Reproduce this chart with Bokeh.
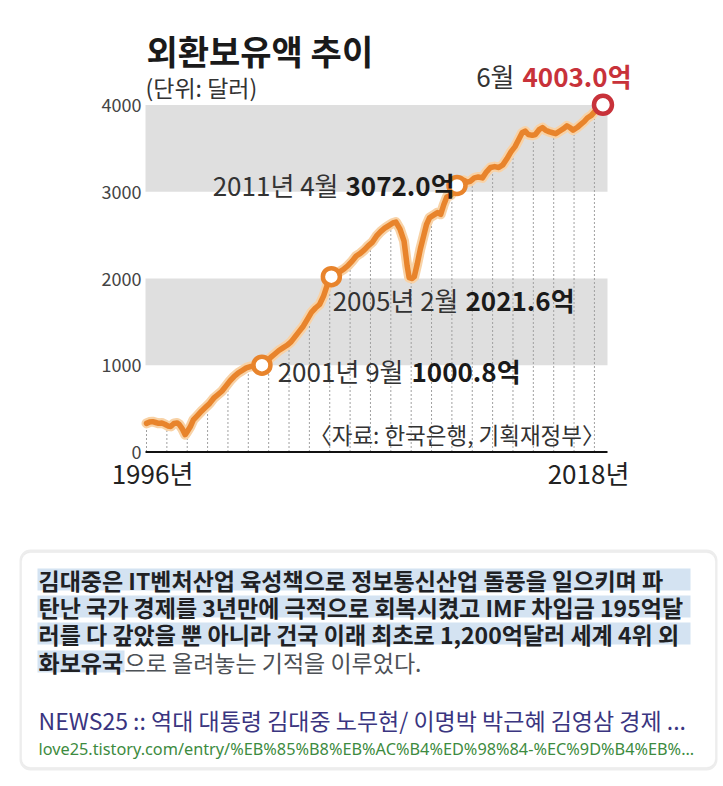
from bokeh.plotting import figure
from bokeh.models import Range1d, BoxAnnotation
from bokeh.layouts import column
from bokeh.embed import file_html
from bokeh.resources import INLINE
from bokeh.core.properties import value

# ---------------- data ----------------
dates = [1996.00, 1996.15, 1996.30, 1996.45, 1996.60, 1996.75, 1996.90,
         1997.05, 1997.20, 1997.35, 1997.50, 1997.60, 1997.75, 1997.90,
         1998.00, 1998.15, 1998.30, 1998.50, 1998.70, 1998.90,
         1999.10, 1999.30, 1999.50, 1999.70, 1999.90,
         2000.10, 2000.30, 2000.50, 2000.70, 2000.90,
         2001.10, 2001.30, 2001.50, 2001.67, 2001.90,
         2002.10, 2002.30, 2002.50, 2002.70, 2002.90,
         2003.10, 2003.30, 2003.50, 2003.70, 2003.90,
         2004.10, 2004.30, 2004.50, 2004.70, 2004.90, 2005.08,
         2005.30, 2005.50, 2005.70, 2005.90,
         2006.10, 2006.30, 2006.50, 2006.70, 2006.90,
         2007.10, 2007.30, 2007.50, 2007.70, 2007.90,
         2008.10, 2008.25, 2008.45, 2008.65, 2008.80, 2008.90,
         2009.05, 2009.15, 2009.30, 2009.45, 2009.60, 2009.75, 2009.90,
         2010.10, 2010.30, 2010.45, 2010.60, 2010.75, 2010.95,
         2011.10, 2011.25, 2011.45, 2011.60, 2011.75, 2011.90,
         2012.10, 2012.30, 2012.50, 2012.70, 2012.90,
         2013.10, 2013.30, 2013.50, 2013.70, 2013.90,
         2014.10, 2014.30, 2014.45, 2014.60, 2014.75, 2014.95,
         2015.10, 2015.30, 2015.45, 2015.60, 2015.80, 2015.95,
         2016.10, 2016.30, 2016.50, 2016.65, 2016.80, 2016.95,
         2017.15, 2017.30, 2017.50, 2017.65, 2017.85,
         2018.00, 2018.15, 2018.30, 2018.42]
reserves = [330, 345, 350, 340, 330, 335, 320,
            300, 295, 330, 335, 320, 270, 200,
            235, 290, 370, 420, 470, 515,
            560, 620, 660, 700, 760,
            820, 870, 910, 940, 970,
            985, 990, 995, 1000.8, 1040,
            1090, 1130, 1170, 1200, 1230,
            1270, 1330, 1390, 1450, 1530,
            1610, 1660, 1700, 1800, 1940, 2021.6,
            2060, 2080, 2110, 2150,
            2200, 2260, 2290, 2330, 2380,
            2420, 2490, 2540, 2580, 2610,
            2640, 2650, 2570, 2430, 2150, 2010,
            2000, 2020, 2170, 2340, 2480, 2620, 2700,
            2730, 2760, 2740, 2850, 2940, 2960,
            3010, 3072.0, 3080, 3130, 3110, 3120,
            3160, 3170, 3160, 3230, 3280,
            3290, 3280, 3310, 3380, 3460,
            3520, 3610, 3680, 3700, 3660, 3650,
            3660, 3720, 3740, 3710, 3690, 3680,
            3670, 3700, 3730, 3760, 3740, 3710,
            3740, 3770, 3810, 3850, 3880,
            3920, 3950, 3975, 4003.0]

year_marks = list(range(1996, 2019))
year_mark_values = [330, 300, 235, 537, 790, 980, 1040, 1250, 1590, 1990,
                    2170, 2400, 2620, 2005, 2710, 2980, 3140, 3285, 3490,
                    3655, 3668, 3725, 3920]

hl_dates = [2001.67, 2005.08, 2011.25, 2018.42]
hl_values = [1000.8, 2021.6, 3072.0, 4003.0]
hl_names = ["2001년 9월", "2005년 2월", "2011년 4월", "6월"]

y_ticks = [0, 1000, 2000, 3000, 4000]
band_lo = [1000, 3000]
band_hi = [2000, 4000]
x_end_labels = ["1996년", "2018년"]

title = "외환보유액 추이"
unit = "(단위: 달러)"
source = "〈자료: 한국은행, 기획재정부〉"

body_lines = ["김대중은 IT벤처산업 육성책으로 정보통신산업 돌풍을 일으키며 파",
              "탄난 국가 경제를 3년만에 극적으로 회복시켰고 IMF 차입금 195억달",
              "러를 다 갚았을 뿐 아니라 건국 이래 최초로 1,200억달러 세계 4위 외",
              "화보유국"]
body_tail = "으로 올려놓는 기적을 이루었다."
link_title = "NEWS25 :: 역대 대통령 김대중 노무현/ 이명박 박근혜 김영삼 경제 ..."
link_url = "love25.tistory.com/entry/%EB%85%B8%EB%AC%B4%ED%98%84-%EC%9D%B4%EB%..."

# ---------------- layout helpers (page pixel -> data) ----------------
W, H1, H2 = 720, 535, 249
PX_YR = 20.36
PX_VAL = 0.08675


def X(px):
    return 1996 + (px - 146) / PX_YR


def Y(py):
    return (451.5 - py) / PX_VAL


NARROW = value("Liberation Sans Narrow, Noto Sans CJK KR")
CJK = value("Noto Sans CJK KR")
ORANGE = "#E8842C"
RED = "#C8323A"

p = figure(width=W, height=H1, x_range=Range1d(X(0), X(W)),
           y_range=Range1d(Y(H1), Y(0)), output_backend="svg",
           toolbar_location=None, x_axis_location=None, y_axis_location=None,
           min_border=0, outline_line_color=None)
p.grid.visible = False
p.background_fill_color = "white"
p.border_fill_color = "white"

# bands
p.quad(left=X(145), right=X(607), bottom=band_lo, top=band_hi,
       fill_color="#DFDFDF", line_color=None)
# drop lines
p.segment(x0=year_marks, y0=[0] * len(year_marks), x1=year_marks, y1=year_mark_values,
          line_color="#A0A0A0", line_width=1, line_dash="2 2")
# baseline
p.segment(x0=[X(145)], y0=[0], x1=[X(607)], y1=[0], line_color="#111111", line_width=2)

# series
p.line(dates, reserves, line_color="#F8D2A6", line_width=10, line_join="round", line_cap="round")
p.line(dates, reserves, line_color=ORANGE, line_width=5.5, line_join="round", line_cap="round")

p.scatter(hl_dates[:3], hl_values[:3], size=17, fill_color="white",
          line_color=ORANGE, line_width=4.5)
p.scatter(hl_dates[3:], hl_values[3:], size=18, fill_color="white",
          line_color=RED, line_width=4.5)

# title
p.text(x=[X(146)], y=[Y(50)], text=[title], text_font=CJK, text_font_style="bold",
       text_font_size="34px", text_baseline="middle", text_color="#1A1A1A")
p.text(x=[X(145)], y=[Y(86)], text=[unit], text_font=NARROW,
       text_font_size="23px", text_baseline="middle", text_color="#333333")

# y tick labels
p.text(x=[X(141)] * len(y_ticks), y=y_ticks, text=[str(t) for t in y_ticks],
       text_font=NARROW, text_font_size="18px", text_align="right",
       text_baseline="middle", text_color="#444444")
# x end labels
p.text(x=[X(152), X(588)], y=[Y(472)] * 2, text=x_end_labels, text_font=NARROW,
       text_font_size="26px", text_align="center", text_baseline="middle",
       text_color="#222222")

# annotations
name_right = [X(403), X(458), X(338), X(514)]
val_left = [X(411), X(465), X(345), X(522)]
ann_y = [Y(370), Y(299), Y(184), Y(75)]
val_colors = ["#1A1A1A", "#1A1A1A", "#1A1A1A", RED]
p.text(x=name_right, y=ann_y, text=hl_names, text_font=NARROW, text_font_size="26px",
       text_align="right", text_baseline="middle", text_color="#333333")
p.text(x=val_left, y=ann_y, text=[f"{v:.1f}억" for v in hl_values], text_font=NARROW,
       text_font_style="bold", text_font_size="26px", text_align="left",
       text_baseline="middle", text_color=val_colors)

# source
p.text(x=[X(604)], y=[Y(433)], text=[source], text_font=NARROW, text_font_size="22.5px",
       text_align="right", text_baseline="middle", text_color="#333333")

# ---------------- snippet box ----------------


def fx(px):
    return px


def fy(py):
    return (H1 + H2) - py


q = figure(width=W, height=H2, x_range=Range1d(0, W), y_range=Range1d(0, H2),
           output_backend="svg", toolbar_location=None, x_axis_location=None,
           y_axis_location=None, min_border=0, outline_line_color=None)
q.grid.visible = False
q.background_fill_color = "white"
q.border_fill_color = "white"

q.add_layout(BoxAnnotation(left=fx(19), right=fx(717), bottom=fy(770), top=fy(549),
                           fill_color="#EDEDED", fill_alpha=1, line_color=None,
                           border_radius=11, level="underlay"))
q.add_layout(BoxAnnotation(left=fx(21), right=fx(715), bottom=fy(767), top=fy(552),
                           fill_color="white", fill_alpha=1, line_color="#DDDDDD",
                           line_width=1, border_radius=9, level="underlay"))

hl_top = [568, 595, 622, 650]
hl_bot = [590, 617, 644, 672]
hl_right = [690, 690, 690, 124]
q.quad(left=[fx(37)] * 4, right=[fx(r) for r in hl_right],
       bottom=[fy(b) for b in hl_bot], top=[fy(t) for t in hl_top],
       fill_color="#D4E3F2", line_color=None)

line_y = [579, 606, 633, 661]
q.text(x=[fx(38)] * 4, y=[fy(v) for v in line_y], text=body_lines, text_font=CJK,
       text_font_style="bold", text_font_size="23px", text_baseline="middle",
       text_color="#202124")
q.text(x=[fx(124)], y=[fy(661)], text=[body_tail], text_font=CJK,
       text_font_size="23px", text_baseline="middle", text_color="#4D5156")
q.text(x=[fx(38)], y=[fy(719)], text=[link_title], text_font=CJK,
       text_font_size="23px", text_baseline="middle", text_color="#3A3580")
q.text(x=[fx(38)], y=[fy(748)], text=[link_url], text_font=value("Noto Sans"),
       text_font_size="16.3px", text_baseline="middle", text_color="#3D8B40")

layout = column(p, q, spacing=0)
open("out.html", "w").write(file_html(layout, INLINE, title="외환보유액 추이"))
